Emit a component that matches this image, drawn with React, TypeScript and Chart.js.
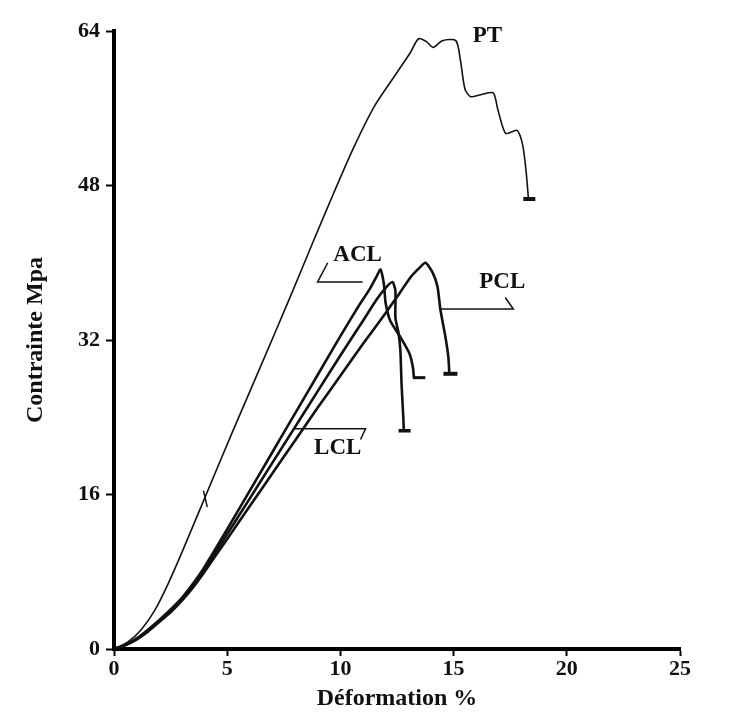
import React, { useEffect, useRef } from "react";
import { Chart, registerables } from "chart.js";

Chart.register(...registerables);

// ---- Data (strain %, stress MPa) ----
const xTicks = [0, 5, 10, 15, 20, 25];
const yTicks = [0, 16, 32, 48, 64];

const ptX = [0, 0.6, 1.2, 1.8, 2.4, 3.0, 4.0, 5.2, 6.5, 7.7, 8.8, 9.7, 10.6, 11.5, 12.5, 13.1, 13.45, 13.8, 14.1, 14.5, 15.1, 15.3, 15.5, 15.75, 16.2, 16.75, 16.95, 17.3, 17.8, 18.05, 18.2, 18.3];
const ptY = [0, 0.7, 2.0, 4.0, 6.8, 10.0, 15.6, 22.3, 29.4, 36.0, 42.2, 47.2, 52.0, 56.2, 59.7, 61.8, 63.2, 62.9, 62.3, 63.0, 63.0, 61.0, 58.0, 57.2, 57.4, 57.6, 55.9, 53.4, 53.7, 52.2, 49.5, 46.8];

const aclX = [0, 0.5, 1.0, 1.5, 2.0, 2.5, 3.0, 3.5, 4.0, 5.0, 6.0, 7.0, 8.0, 9.0, 10.0, 10.8, 11.3, 11.6, 11.77, 11.92, 12.0, 12.2, 12.65, 13.05, 13.2, 13.25];
const aclY = [0, 0.4, 1.1, 2.0, 3.0, 4.1, 5.3, 6.8, 8.5, 12.4, 16.4, 20.4, 24.4, 28.4, 32.4, 35.5, 37.3, 38.6, 39.3, 37.8, 35.8, 34.0, 32.3, 30.6, 29.2, 28.1];

const lclX = [0, 0.5, 1.0, 1.5, 2.0, 2.5, 3.0, 3.5, 4.0, 5.0, 6.0, 7.0, 8.0, 9.0, 10.0, 11.0, 11.6, 12.0, 12.3, 12.43, 12.43, 12.57, 12.65, 12.7, 12.78, 12.8];
const lclY = [0, 0.4, 1.0, 1.9, 2.9, 4.0, 5.2, 6.6, 8.2, 11.9, 15.6, 19.3, 23.0, 26.7, 30.4, 34.0, 36.2, 37.4, 38.0, 37.1, 34.3, 32.7, 30.9, 27.5, 23.9, 22.6];

const pclX = [0, 0.5, 1.0, 1.5, 2.0, 2.5, 3.0, 3.5, 4.0, 5.0, 6.0, 7.0, 8.0, 9.0, 10.0, 11.0, 12.0, 12.6, 13.1, 13.5, 13.76, 14.07, 14.29, 14.42, 14.64, 14.77, 14.81];
const pclY = [0, 0.4, 1.0, 1.8, 2.8, 3.8, 5.0, 6.4, 8.0, 11.4, 14.8, 18.2, 21.6, 25.0, 28.3, 31.6, 34.8, 36.8, 38.5, 39.5, 40.0, 39.0, 37.5, 35.1, 32.3, 30.2, 28.6];

// leader lines for the curve names
const aclLeaderX = [9.44, 8.99, 10.98];
const aclLeaderY = [40.0, 38.0, 38.0];
const pclLeaderX = [14.42, 17.64, 17.28];
const pclLeaderY = [35.2, 35.2, 36.4];
const lclLeaderX = [7.94, 11.11, 10.89];
const lclLeaderY = [22.8, 22.8, 21.7];

// rupture end bars
const ptEndX = [18.08, 18.61];
const ptEndY = [46.6, 46.6];
const aclEndX = [13.2, 13.75];
const aclEndY = [28.1, 28.1];
const lclEndX = [12.57, 13.1];
const lclEndY = [22.6, 22.6];
const pclEndX = [14.55, 15.17];
const pclEndY = [28.5, 28.5];
const ptMarkX = [3.95, 4.12];
const ptMarkY = [16.4, 14.7];

const curveNames = ["PT", "ACL", "PCL", "LCL"];
const nameX = [16.49, 10.76, 17.15, 9.88];
const nameY = [63.5, 40.8, 38.0, 20.8];

const FONT = "'Liberation Serif', 'Times New Roman', serif";
const INK = "#111111";

const pts = (xs: number[], ys: number[]) => xs.map((x, i) => ({ x, y: ys[i] }));

const line = (label: string, xs: number[], ys: number[], width: number, tension = 0) => ({
  label,
  data: pts(xs, ys),
  borderColor: INK,
  backgroundColor: INK,
  borderWidth: width,
  pointRadius: 0,
  tension,
  fill: false,
});

const namesPlugin = {
  id: "curveNames",
  afterDatasetsDraw(chart: any) {
    const { ctx, scales } = chart;
    ctx.save();
    ctx.fillStyle = INK;
    ctx.font = `bold 23px ${FONT}`;
    ctx.textAlign = "center";
    ctx.textBaseline = "middle";
    curveNames.forEach((t, i) => {
      ctx.fillText(t, scales.x.getPixelForValue(nameX[i]), scales.y.getPixelForValue(nameY[i]));
    });
    ctx.restore();
  },
};

export default function App() {
  const ref = useRef<HTMLCanvasElement | null>(null);
  useEffect(() => {
    document.body.style.margin = "0";
    if (!ref.current) return;
    const chart = new Chart(ref.current, {
      type: "line",
      data: {
        datasets: [
          line("PT", ptX, ptY, 1.6, 0.25),
          line("ACL", aclX, aclY, 2.6, 0.2),
          line("LCL", lclX, lclY, 2.6, 0.2),
          line("PCL", pclX, pclY, 2.6, 0.2),
          line("ACL leader", aclLeaderX, aclLeaderY, 1.5),
          line("PCL leader", pclLeaderX, pclLeaderY, 1.5),
          line("LCL leader", lclLeaderX, lclLeaderY, 1.5),
          line("PT end", ptEndX, ptEndY, 4),
          line("ACL end", aclEndX, aclEndY, 3),
          line("LCL end", lclEndX, lclEndY, 3.5),
          line("PCL end", pclEndX, pclEndY, 4),
          line("PT mark", ptMarkX, ptMarkY, 1.5),
        ] as any,
      },
      options: {
        animation: false,
        responsive: false,
        parsing: true,
        layout: { padding: { left: 0, right: 65, top: 31, bottom: 0 } },
        plugins: { legend: { display: false }, tooltip: { enabled: false } },
        scales: {
          x: {
            type: "linear",
            min: 0,
            max: 25,
            afterFit: (s: any) => {
              s.height = 64;
            },
            afterBuildTicks: (s: any) => {
              s.ticks = xTicks.map((v) => ({ value: v }));
            },
            border: { display: true, color: "#000", width: 4 },
            grid: { drawOnChartArea: false, drawTicks: true, tickLength: 7, tickColor: "#000", tickWidth: 2 },
            ticks: { color: INK, padding: 0, font: { family: FONT, size: 22, weight: "bold" } },
            title: {
              display: true,
              text: "Déformation %",
              color: INK,
              padding: { top: 0, bottom: 0 },
              font: { family: FONT, size: 24, weight: "bold" },
            },
          },
          y: {
            type: "linear",
            min: 0,
            max: 64,
            afterFit: (s: any) => {
              s.width = 114;
            },
            afterBuildTicks: (s: any) => {
              s.ticks = yTicks.map((v) => ({ value: v }));
            },
            border: { display: true, color: "#000", width: 4 },
            grid: { drawOnChartArea: false, drawTicks: true, tickLength: 8, tickColor: "#000", tickWidth: 2 },
            ticks: { color: INK, padding: 6, font: { family: FONT, size: 22, weight: "bold" } },
            title: {
              display: true,
              text: "Contrainte Mpa",
              color: INK,
              padding: { top: 21, bottom: 0 },
              font: { family: FONT, size: 24, weight: "bold" },
            },
          },
        },
      } as any,
      plugins: [namesPlugin],
    });
    return () => chart.destroy();
  }, []);
  return (
    <div style={{ width: 745, height: 713, background: "#fff" }}>
      <canvas ref={ref} width={745} height={713} style={{ display: "block" }} />
    </div>
  );
}
